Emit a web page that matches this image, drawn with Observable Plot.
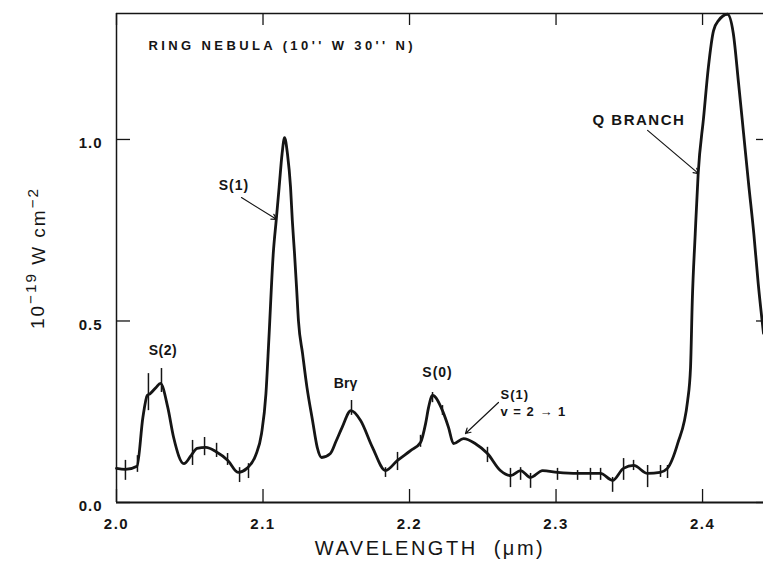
<!DOCTYPE html>
<html><head><meta charset="utf-8">
<script src="https://cdn.jsdelivr.net/npm/d3@7"></script>
<script src="https://cdn.jsdelivr.net/npm/@observablehq/plot@0.6"></script>
<style>body{margin:0;background:#fff}</style>
</head><body><div id="chart"></div>
<script>
// Spectrum (wavelength in µm, flux in 1e-19 W cm^-2)
const wavelength = [2.000,2.006,2.014,2.018,2.021,2.023,2.027,2.030,2.035,2.039,2.046,2.051,2.055,2.061,2.068,2.076,2.083,2.089,2.095,2.099,2.102,2.104,2.107,2.109,2.111,2.113,2.1147,2.1167,2.1188,2.120,2.1215,2.1229,2.1242,2.127,2.130,2.1338,2.137,2.140,2.146,2.150,2.154,2.160,2.1666,2.1747,2.1836,2.1918,2.2007,2.2075,2.211,2.213,2.2157,2.2225,2.2266,2.230,2.2369,2.245,2.2532,2.262,2.269,2.2758,2.2826,2.2908,2.301,2.3147,2.3304,2.3386,2.346,2.353,2.3625,2.371,2.376,2.383,2.3898,2.3918,2.393,2.395,2.397,2.4007,2.404,2.4075,2.411,2.417,2.421,2.4246,2.428,2.4314,2.435,2.438,2.4416];
const flux = [0.094,0.091,0.100,0.234,0.295,0.300,0.317,0.328,0.262,0.179,0.107,0.130,0.149,0.152,0.140,0.116,0.083,0.094,0.130,0.190,0.300,0.450,0.686,0.777,0.868,0.960,1.005,0.960,0.868,0.777,0.686,0.592,0.500,0.410,0.317,0.226,0.152,0.124,0.135,0.170,0.207,0.253,0.226,0.152,0.088,0.116,0.143,0.165,0.218,0.262,0.295,0.253,0.207,0.162,0.176,0.162,0.135,0.088,0.074,0.088,0.069,0.088,0.083,0.080,0.080,0.061,0.094,0.102,0.080,0.083,0.094,0.162,0.280,0.372,0.556,0.740,0.905,1.060,1.200,1.300,1.328,1.345,1.292,1.154,1.017,0.879,0.740,0.603,0.466];

// Error bars
const errX  = [2.0061,2.0143,2.0218,2.0307,2.0519,2.0601,2.0683,2.0758,2.0840,2.0901,2.1604,2.1836,2.1918,2.2075,2.2157,2.2225,2.2532,2.2689,2.2758,2.2826,2.3010,2.3147,2.3235,2.3304,2.3386,2.3461,2.3529,2.3625,2.3713,2.3761];
const errLo = [0.061,0.083,0.253,0.303,0.102,0.129,0.124,0.102,0.055,0.066,0.240,0.069,0.088,0.152,0.275,0.240,0.110,0.041,0.061,0.039,0.061,0.061,0.061,0.061,0.028,0.061,0.088,0.041,0.069,0.066];
const errHi = [0.116,0.129,0.355,0.369,0.171,0.179,0.163,0.135,0.096,0.107,0.281,0.096,0.138,0.185,0.303,0.267,0.152,0.094,0.096,0.080,0.094,0.088,0.094,0.094,0.069,0.121,0.116,0.102,0.102,0.102];

const xTicks = [2.0, 2.1, 2.2, 2.3, 2.4];
const yTicks = [0.0, 0.5, 1.0];
const xDomain = [2.0, 2.4416];
const yDomain = [0, 1.347];

// Annotations (data coordinates)
const centerLabels = ["S(2)", "S(1)", "Br\u03b3", "S(0)"];
const centerLabelX = [2.0317, 2.0802, 2.1563, 2.2191];
const centerLabelY = [0.419, 0.873, 0.328, 0.358];
const startLabels = ["RING NEBULA (10'' W 30'' N)", "S(1)", "v = 2 \u2192 1", "Q BRANCH"];
const startLabelX = [2.0218, 2.2621, 2.2621, 2.3249];
const startLabelY = [1.259, 0.2975, 0.2507, 1.052];
const arrowX1 = [2.0853, 2.2607, 2.3625];
const arrowY1 = [0.840, 0.2755, 1.025];
const arrowX2 = [2.1092, 2.2382, 2.3973];
const arrowY2 = [0.780, 0.190, 0.906];

const xLabel = "WAVELENGTH  (\u03bcm)";
const yLabel = "10\u221219 W cm\u22122";

const W = 763, H = 565, mL = 116, mR = 0, mT = 13, mB = 63;
const innerW = W - mL - mR, innerH = H - mT - mB;
const ink = "#151515";

const spec = wavelength.map((x, i) => ({x, y: flux[i]}));
const errs = errX.map((x, i) => ({x, lo: errLo[i], hi: errHi[i]}));
const idx = a => a.map((_, i) => i);

const chart = Plot.plot({
  width: W, height: H,
  marginLeft: mL, marginRight: mR, marginTop: mT, marginBottom: mB,
  style: {fontFamily: "'Liberation Sans', Arial, sans-serif", fontSize: "15px", color: ink, background: "#fff"},
  x: {domain: xDomain},
  y: {domain: yDomain},
  marks: [
    Plot.ruleY([yDomain[0]], {stroke: ink, strokeWidth: 2}),
    Plot.ruleY([yDomain[1]], {stroke: ink, strokeWidth: 1.5}),
    Plot.ruleX([xDomain[0]], {stroke: ink, strokeWidth: 1.5}),
    Plot.tickX(xTicks, {x: d => d, insetTop: innerH - 13, stroke: ink, strokeWidth: 1.3}),
    Plot.tickX(xTicks, {x: d => d, insetBottom: innerH - 12, stroke: ink, strokeWidth: 1.3}),
    Plot.tickY(yTicks, {y: d => d, insetRight: innerW - 14, stroke: ink, strokeWidth: 1.3}),
    Plot.tickY(yTicks, {y: d => d, insetLeft: innerW - 7, stroke: ink, strokeWidth: 1.3}),
    Plot.axisX(xTicks, {tickSize: 0, tickPadding: 16, tickFormat: d3.format(".1f"), label: null, fill: ink, fontWeight: "bold"}),
    Plot.axisY(yTicks, {tickSize: 0, tickPadding: 14, tickFormat: d3.format(".1f"), label: null, dy: 4, fill: ink, fontWeight: "bold"}),
    Plot.text([xLabel], {frameAnchor: "bottom", dx: -10, dy: 52, fontSize: 20, fill: ink}),
    Plot.text([yLabel], {frameAnchor: "left", textAnchor: "middle", rotate: -90, dx: -79, dy: 0, fontSize: 19, fill: ink}),
    Plot.ruleX(errs, {x: "x", y1: "lo", y2: "hi", stroke: ink, strokeWidth: 1.5}),
    Plot.line(spec, {x: "x", y: "y", stroke: ink, strokeWidth: 2.8, strokeLinejoin: "round", curve: "monotone-x"}),
    Plot.text(idx(centerLabels), {x: i => centerLabelX[i], y: i => centerLabelY[i], text: i => centerLabels[i], fontSize: 14, fontWeight: "bold", fill: ink}),
    Plot.text(idx(startLabels), {x: i => startLabelX[i], y: i => startLabelY[i], text: i => startLabels[i], textAnchor: "start", fontSize: i => i === 3 ? 15 : 13, fontWeight: "bold", fill: ink}),
    Plot.arrow(idx(arrowX1), {x1: i => arrowX1[i], y1: i => arrowY1[i], x2: i => arrowX2[i], y2: i => arrowY2[i], stroke: ink, strokeWidth: 1.2, headLength: 7, insetEnd: 0})
  ]
});

const spacing = {"RING NEBULA (10'' W 30'' N)": 3.4, "Q BRANCH": 1.5, [xLabel]: 2.5, "S(1)": 1, "S(2)": 0.5, "S(0)": 1, "v = 2 \u2192 1": 1, "2.0": 1.5, "2.1": 1.5, "2.2": 1.5, "2.3": 1.5, "2.4": 1.5, "0.0": 1, "0.5": 1, "1.0": 1};
d3.select(chart).selectAll("text").each(function() {
  const t = this.textContent;
  if (spacing[t] != null) this.setAttribute("letter-spacing", spacing[t]);
  if (t === yLabel) {
    // rebuild with superscripts, keeping it as real text
    const el = d3.select(this);
    el.text(null).attr("letter-spacing", 2);
    el.append("tspan").text("10");
    el.append("tspan").attr("dy", "-0.5em").attr("font-size", "0.8em").text("\u221219");
    el.append("tspan").attr("dy", "0.5em").text(" W cm");
    el.append("tspan").attr("dy", "-0.5em").attr("font-size", "0.8em").text("\u22122");
  }
});
document.getElementById("chart").appendChild(chart);
</script>
</body></html>
